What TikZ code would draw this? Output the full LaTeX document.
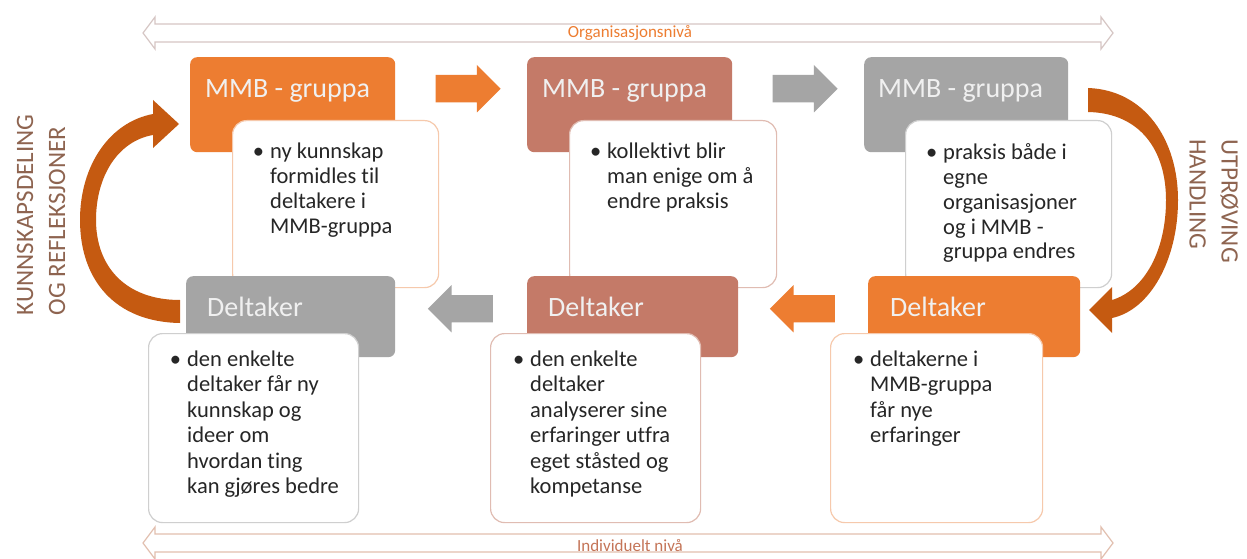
\documentclass[tikz,border=0pt]{standalone}
\usepackage{fontspec}
\setmainfont{Carlito}[Ligatures=NoCommon]
\usetikzlibrary{shapes.arrows,calc}

\definecolor{cOrange}{HTML}{ED7D31}
\definecolor{cRose}{HTML}{C47A68}
\definecolor{cGray}{HTML}{A5A5A5}
\definecolor{cDark}{HTML}{C55A11}
\definecolor{cSide}{HTML}{8E6450}
\definecolor{lOrange}{HTML}{F6C9AC}
\definecolor{lRose}{HTML}{E0BCB2}
\definecolor{lGray}{HTML}{CFCFCF}
\definecolor{cText}{HTML}{262626}
\definecolor{cLevelTop}{HTML}{D6C6C4}
\definecolor{cLevelBot}{HTML}{E2BFAF}

% bullet paragraph: first line carries the bullet in the left margin
\newcommand\bulletpar[1]{\parbox[t]{200pt}{\leavevmode\llap{\textbullet\hspace{6pt}}#1}}

\tikzset{
  hdrbox/.style={draw=none, rounded corners=7pt, inner sep=0pt, anchor=north west},
  txtbox/.style={draw=#1, fill=white, line width=1.2pt, rounded corners=14pt,
                 inner sep=0pt, anchor=north west},
  hdrlabel/.style={text=white!94!black, anchor=base west, inner sep=0pt,
                   font=\fontsize{28}{32}\selectfont},
  toptext/.style={text=cText, anchor=base west, inner sep=0pt,
                  font=\fontsize{22.5}{25}\selectfont},
  bottext/.style={text=cText, anchor=base west, inner sep=0pt,
                  font=\fontsize{22.5}{25.5}\selectfont},
  blockarrow/.style={single arrow, draw=none, minimum height=65pt,
                     minimum width=47pt, single arrow head extend=10pt,
                     inner xsep=0pt, inner ysep=13.5pt},
  sidetext/.style={text=cSide, align=left, inner sep=0pt,
                   font=\fontsize{25}{32}\selectfont},
  levelarrow/.style={draw=#1, fill=white, line width=1.2pt, line join=miter},
  levellabel/.style={inner sep=0pt, font=\fontsize{17}{18}\selectfont},
}

\begin{document}
\begin{tikzpicture}[x=1pt,y=-1pt]
\useasboundingbox[fill=white] (0,0) rectangle (1247,559);

% ---- level bands ----
\draw[levelarrow=cLevelTop] (143,33) -- (155,17) -- (155,24) -- (1101,24) -- (1101,17)
  -- (1113,33) -- (1101,49) -- (1101,42) -- (155,42) -- (155,49) -- cycle;
\node[levellabel, text=cOrange] (orgniva) at (630,33) {Organisasjonsnivå};

\draw[levelarrow=cLevelBot] (143,543) -- (155,527) -- (155,534) -- (1101,534) -- (1101,527)
  -- (1113,543) -- (1101,559) -- (1101,552) -- (155,552) -- (155,559) -- cycle;
\node[levellabel, text=cRose!80!cDark] (indniva) at (630,546) {Individuelt nivå};

% ---- curved cycle arrows ----
\fill[cDark] (180,323) .. controls (115,322) and (80,280) .. (80,220)
  .. controls (80,165) and (110,122) .. (153,114) -- (153,100) -- (179,124)
  -- (153,148) -- (153,135) .. controls (118,141) and (96,176) .. (96,220)
  .. controls (96,266) and (125,300) .. (180,300) -- cycle;

\fill[cDark] (1088,88) .. controls (1145,90) and (1178,140) .. (1178,200)
  .. controls (1178,260) and (1150,310) .. (1112,318) -- (1112,333) -- (1089,310)
  -- (1112,287) -- (1112,300) .. controls (1145,290) and (1166,250) .. (1166,200)
  .. controls (1166,150) and (1140,113) .. (1088,112) -- cycle;

% ---- side captions ----
\node[sidetext, rotate=90] (leftcap) at (41,215) {KUNNSKAPSDELING\\OG REFLEKSJONER};
\node[sidetext, rotate=-90] (rightcap) at (1214,201) {UTPRØVING\\HANDLING};

% ---- upper row: MMB-gruppa ----
\node[hdrbox, fill=cOrange, minimum width=205pt, minimum height=95pt] (m1) at (190,57) {};
\node[hdrbox, fill=cRose,   minimum width=205pt, minimum height=95pt] (m2) at (527,57) {};
\node[hdrbox, fill=cGray,   minimum width=204pt, minimum height=95pt] (m3) at (864,57) {};
\node[hdrlabel] (m1l) at ($(m1.north west)+(15,41)$) {MMB - gruppa};
\node[hdrlabel] (m2l) at ($(m2.north west)+(15,41)$) {MMB - gruppa};
\node[hdrlabel] (m3l) at ($(m3.north west)+(14,41)$) {MMB - gruppa};

\node[txtbox=lOrange, minimum width=206pt, minimum height=167pt] (t1) at (232,120) {};
\node[txtbox=lRose,   minimum width=207pt, minimum height=167pt] (t2) at (569,120) {};
\node[txtbox=lGray,   minimum width=206pt, minimum height=167pt] (t3) at (905,120) {};
\node[toptext] (t1x) at ($(t1.north west)+(38,38)$)
  {\bulletpar{ny kunnskap\\formidles til\\deltakere i\\MMB-gruppa}};
\node[toptext] (t2x) at ($(t2.north west)+(38,38)$)
  {\bulletpar{kollektivt blir\\man enige om å\\endre praksis}};
\node[toptext] (t3x) at ($(t3.north west)+(38,39)$)
  {\bulletpar{praksis både i\\egne\\organisasjoner\\og i MMB -\\gruppa endres}};

% ---- lower row: Deltaker ----
\node[hdrbox, fill=cGray,   minimum width=209pt, minimum height=81pt] (d1) at (186,276) {};
\node[hdrbox, fill=cRose,   minimum width=211pt, minimum height=81pt] (d2) at (527,276) {};
\node[hdrbox, fill=cOrange, minimum width=212pt, minimum height=81pt] (d3) at (868,276) {};
\node[hdrlabel] (d1l) at ($(d1.north west)+(21,40)$) {Deltaker};
\node[hdrlabel] (d2l) at ($(d2.north west)+(21,40)$) {Deltaker};
\node[hdrlabel] (d3l) at ($(d3.north west)+(22,40)$) {Deltaker};

\node[txtbox=lGray,   minimum width=210pt, minimum height=189pt] (b1) at (148,333) {};
\node[txtbox=lRose,   minimum width=210pt, minimum height=189pt] (b2) at (490,333) {};
\node[txtbox=lOrange, minimum width=212pt, minimum height=189pt] (b3) at (830,333) {};
\node[bottext] (b1x) at ($(b1.north west)+(39,33)$)
  {\bulletpar{den enkelte\\deltaker får ny\\kunnskap og\\ideer om\\hvordan ting\\kan gjøres bedre}};
\node[bottext] (b2x) at ($(b2.north west)+(40,33)$)
  {\bulletpar{den enkelte\\deltaker\\analyserer sine\\erfaringer utfra\\eget ståsted og\\kompetanse}};
\node[bottext] (b3x) at ($(b3.north west)+(40,33)$)
  {\bulletpar{deltakerne i\\MMB-gruppa\\får nye\\erfaringer}};

% ---- step arrows between the boxes ----
\node[blockarrow, fill=cOrange] (a1) at ($(m1.east)!0.5!(m2.west)+(0,-16)$) {};
\node[blockarrow, fill=cGray]   (a2) at ($(m2.east)!0.5!(m3.west)+(0,-16)$) {};
\node[blockarrow, fill=cOrange, shape border rotate=180] (a3) at ($(d2.east)!0.5!(d3.west)+(6,-8)$) {};
\node[blockarrow, fill=cGray,   shape border rotate=180] (a4) at ($(d1.east)!0.5!(d2.west)+(6,-8)$) {};

\end{tikzpicture}
\end{document}
